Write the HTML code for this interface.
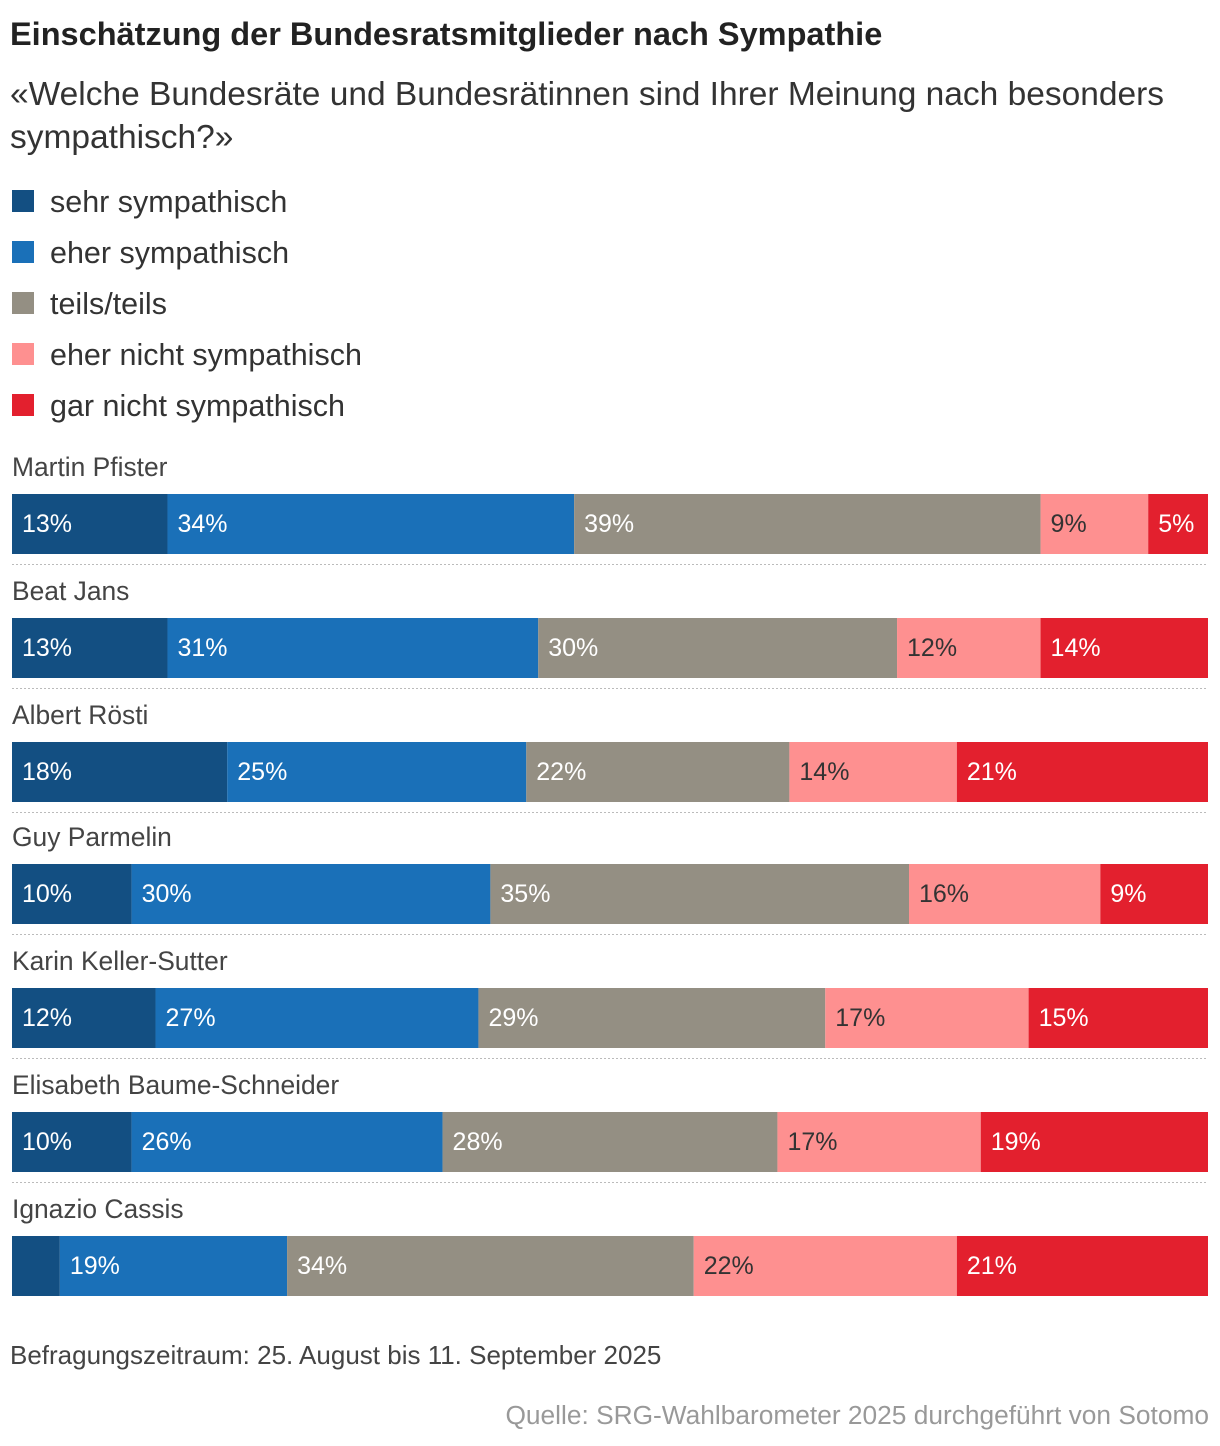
<!DOCTYPE html>
<html><head><meta charset="utf-8">
<style>
body{margin:0;width:1220px;height:1446px;background:#fff;font-family:"Liberation Sans",sans-serif;color:#222;position:relative;overflow:hidden}
.t{position:absolute;white-space:nowrap}
.lg{position:absolute;left:12px;width:22px;height:22px}
</style></head><body>
<div class="t" style="left:10px;top:16px;font-size:32.5px;font-weight:bold;color:#222">Einschätzung der Bundesratsmitglieder nach Sympathie</div>
<div class="t" style="left:10px;top:73px;font-size:33.5px;line-height:43px;color:#333;white-space:normal;width:1200px">«Welche Bundesräte und Bundesrätinnen sind Ihrer Meinung nach besonders sympathisch?»</div>
<div id="legend"></div>
<svg id="chart" width="1220" height="1446" style="position:absolute;left:0;top:0"></svg>
<div class="t" style="left:10px;top:1340px;font-size:26px;color:#444">Befragungszeitraum: 25. August bis 11. September 2025</div>
<div class="t" style="right:11px;top:1400px;font-size:26.3px;color:#999">Quelle: SRG-Wahlbarometer 2025 durchgeführt von Sotomo</div>
<script>
const categories=["sehr sympathisch","eher sympathisch","teils/teils","eher nicht sympathisch","gar nicht sympathisch"];
const colors=["#134f82","#1a70b8","#948f83","#fe9090","#e3202e"];
const textColors=["#fff","#fff","#fff","#333","#fff"];
const names=["Martin Pfister","Beat Jans","Albert Rösti","Guy Parmelin","Karin Keller-Sutter","Elisabeth Baume-Schneider","Ignazio Cassis"];
const sehr=[13,13,18,10,12,10,4];
const eher=[34,31,25,30,27,26,19];
const teils=[39,30,22,35,29,28,34];
const eherNicht=[9,12,14,16,17,17,22];
const garNicht=[5,14,21,9,15,19,21];
const series=[sehr,eher,teils,eherNicht,garNicht];
const X0=12,W=1196;
const x=v=>X0+v/100*W;
const leg=document.getElementById('legend');
categories.forEach((c,i)=>{
  const y=190+i*51;
  const s=document.createElement('div');s.className='lg';s.style.top=y+'px';s.style.background=colors[i];
  
  
  leg.appendChild(s);
  const t=document.createElement('div');t.className='t';t.style.left='50px';t.style.top=(y-5)+'px';t.style.fontSize='30.5px';t.style.color='#333';t.textContent=c;
  
  
  leg.appendChild(t);
});
const svg=document.getElementById('chart');const NS='http://www.w3.org/2000/svg';
names.forEach((n,r)=>{
  const top=494+r*124-(r>=3?2:0);
  const nm=document.createElementNS(NS,'text');nm.setAttribute('x',12);nm.setAttribute('y',top-18);nm.setAttribute('font-size','26.4');nm.setAttribute('fill','#444');nm.textContent=n;
  
  
  svg.appendChild(nm);
  let cum=0;
  series.forEach((s,k)=>{
    const v=s[r];
    const rc=document.createElementNS(NS,'rect');
    rc.setAttribute('x',x(cum));rc.setAttribute('y',top);rc.setAttribute('width',x(cum+v)-x(cum));rc.setAttribute('height',60);rc.setAttribute('fill',colors[k]);
    
    
    svg.appendChild(rc);
    if(v>=5){
      const t=document.createElementNS(NS,'text');t.setAttribute('x',x(cum)+10);t.setAttribute('y',top+38);t.setAttribute('font-size','25');t.setAttribute('fill',textColors[k]);t.textContent=v+'%';
      
      
      svg.appendChild(t);
    }
    cum+=v;
  });
  if(r<names.length-1){
    const l=document.createElementNS(NS,'line');l.setAttribute('x1',12);l.setAttribute('x2',1208);l.setAttribute('y1',top+70.5);l.setAttribute('y2',top+70.5);l.setAttribute('stroke','#bbb');l.setAttribute('stroke-dasharray','2,2');
    
    
    svg.appendChild(l);
  }
});
</script>
</body></html>
